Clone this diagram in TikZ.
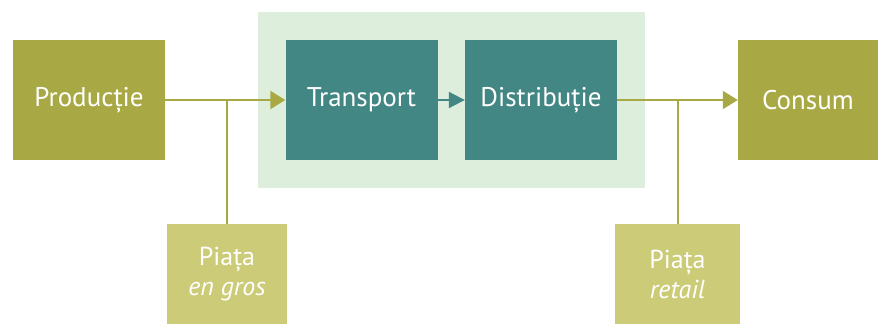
\documentclass[tikz,border=0pt]{standalone}
\usepackage{fontspec}
\setmainfont{PT Sans}
\usetikzlibrary{arrows.meta}
\definecolor{olive}{HTML}{A8A944}
\definecolor{teal2}{HTML}{438784}
\definecolor{lightbg}{HTML}{DDEEDD}
\definecolor{lightolive}{HTML}{CCCB77}
\tikzset{
  box/.style={draw=none, inner sep=0pt, text=white, font=\fontsize{27}{30}\selectfont, align=center},
  prodbox/.style={box, fill=olive, minimum width=152pt, minimum height=120pt},
  tealbox/.style={box, fill=teal2, minimum width=152pt, minimum height=120pt},
  mktbox/.style={box, fill=lightolive, minimum width=122pt, minimum height=100pt, font=\fontsize{26}{30}\selectfont},
  olink/.style={draw=olive, line width=2pt},
  oarrow/.style={olink, -{Triangle[length=15pt,width=18pt]}},
  tarrow/.style={draw=teal2, line width=2pt, -{Triangle[length=16pt,width=16pt]}}
}
\begin{document}
\begin{tikzpicture}[x=1pt,y=-1pt]
\useasboundingbox (0,0) rectangle (878,324);
\node[fill=lightbg, minimum width=387pt, minimum height=176pt, inner sep=0pt] (bg) at (451.5,100) {};
\node[prodbox] (prod) at (89,100) {Producție};
\node[tealbox] (trans) at (361.5,100) {Transport};
\node[tealbox] (dist) at (541,100) {Distribuție};
\node[prodbox, minimum width=140pt] (cons) at (808,100) {Consum};
\node[mktbox, minimum width=120pt] (gros) at (227,274) {Piața\\\textit{en gros}};
\node[mktbox, minimum width=125pt] (retail) at (677.5,274) {Piața\\\textit{retail}};
\draw[oarrow] (prod.east) -- (trans.west);
\draw[olink] (gros.north) -- (gros.north |- prod.east);
\draw[tarrow] (trans.east) -- (dist.west);
\draw[oarrow] (dist.east) -- (cons.west);
\draw[olink] (retail.north) -- (retail.north |- dist.east);
\end{tikzpicture}
\end{document}
